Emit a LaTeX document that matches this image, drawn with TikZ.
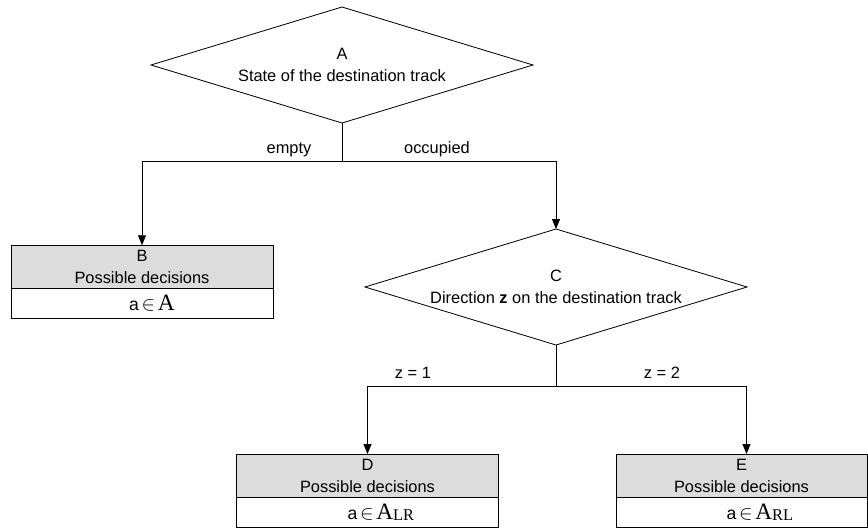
\documentclass[tikz,border=0pt]{standalone}
\usepackage{fontspec}
\setmainfont{Liberation Sans}
\newfontfamily\sansA{Liberation Sans}
\newfontfamily\serifA{Liberation Serif}
\usetikzlibrary{shapes.geometric,arrows.meta,positioning}
\definecolor{headgray}{RGB}{220,220,220}
% a in A, with the A set large and in serif
\newcommand{\choice}[1]{{\sansA\fontsize{15}{15}\selectfont a}\,{\fontsize{17}{17}\selectfont$\in$}\,{\fontsize{20}{20}\selectfont\serifA A}\raisebox{-1pt}{\fontsize{14}{14}\selectfont\serifA #1}}

\begin{document}
\begin{tikzpicture}[
    x=0.03cm, y=-0.03cm,
    line width=0.7pt,
    every node/.style={font=\fontsize{14}{19}\selectfont},
    decision/.style={diamond, draw, minimum width=11.46cm, minimum height=3.48cm,
        inner ysep=0pt, inner xsep=-1.2cm, outer sep=0pt, shape aspect=3.3, align=center},
    head/.style={draw, fill=headgray, minimum width=7.86cm, minimum height=1.305cm,
        inner sep=0pt, outer sep=0pt, align=center},
    body/.style={draw, minimum width=7.86cm, minimum height=0.885cm, inner sep=0pt, outer sep=0pt},
    >={Triangle[length=0.3cm,width=0.24cm]}
]
\useasboundingbox (0,0) rectangle (868,530);

% Decisions
\node[decision] (A) at (342,65) {A\\State of the destination track};
\node[decision] (C) at (556,287) {C\\Direction \textbf{z} on the destination track};

% Possible decisions
\node[head] (Bhead) at (142,267) {B\\Possible decisions};
\node[body, below=0pt of Bhead] (Bbody) {\hspace*{0.6cm}\choice{}};
\node[head] (Dhead) at (367.5,475.75) {D\\Possible decisions};
\node[body, below=0pt of Dhead] (Dbody) {\hspace*{0.8cm}\choice{LR}};
\node[head, minimum width=7.53cm] (Ehead) at (741.5,475.75) {E\\Possible decisions};
\node[body, minimum width=7.53cm, below=0pt of Ehead] (Ebody) {\hspace*{1.1cm}\choice{RL}};

% Branches
\coordinate (forkA) at (342,161);
\coordinate (forkC) at (556,386);
\draw (A.south) -- (forkA);
\draw[->] (forkA) -| (Bhead.north);
\draw[->] (forkA) -| (C.north);
\draw (C.south) -- (forkC);
\draw[->] (forkC) -| (Dhead.north);
\draw[->] (forkC) -| ([xshift=0.15cm]Ehead.north);

% Branch labels
\node[anchor=base] (empty) at (289,153) {empty};
\node[anchor=base] (occupied) at (437,153) {occupied};
\node[anchor=base] (zone) at (413,378) {z = 1};
\node[anchor=base] (ztwo) at (662,378) {z = 2};
\end{tikzpicture}
\end{document}
